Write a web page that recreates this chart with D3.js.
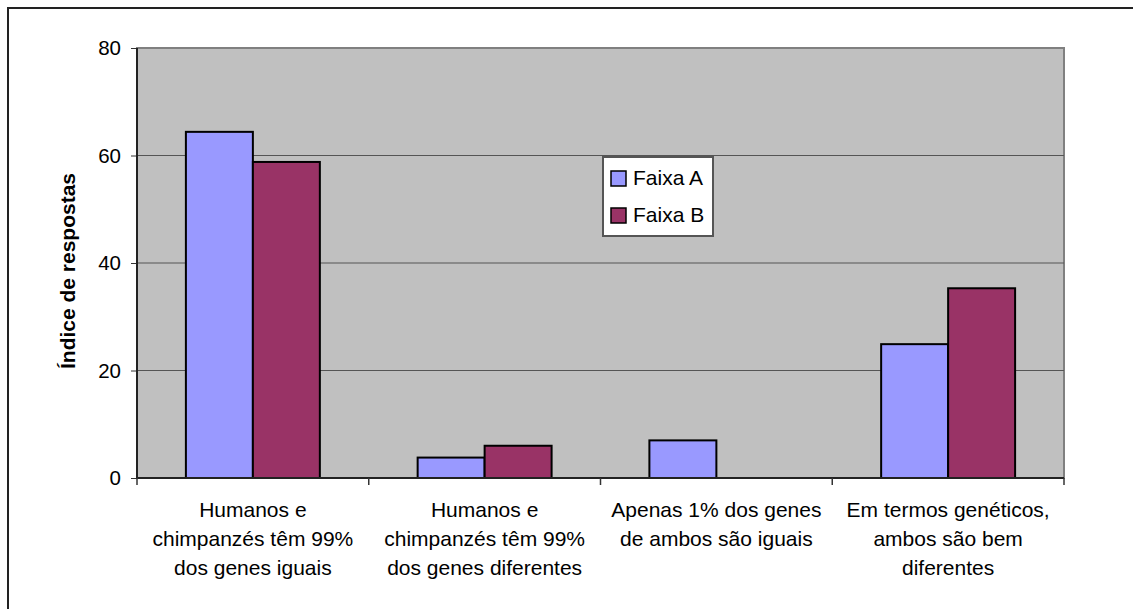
<!DOCTYPE html>
<html lang="pt">
<head>
<meta charset="UTF-8">
<script src="https://d3js.org/d3.v7.min.js"></script>
<style>
  html, body { margin: 0; background: #fff; overflow: hidden; }
  svg { display: block; }
  text { font-family: "Liberation Sans", Arial, sans-serif; fill: #000; }
</style>
</head>
<body>
<svg width="1133" height="609"></svg>
<script>
// data
var categories = [
  ["Humanos e", "chimpanzés têm 99%", "dos genes iguais"],
  ["Humanos e", "chimpanzés têm 99%", "dos genes diferentes"],
  ["Apenas 1% dos genes", "de ambos são iguais"],
  ["Em termos genéticos,", "ambos são bem", "diferentes"]
];
var seriesNames = ["Faixa A", "Faixa B"];
var faixaA = [64.4, 3.8, 7.0, 24.9];
var faixaB = [58.8, 6.0, 0, 35.3];
var yTicks = [0, 20, 40, 60, 80];
var colors = ["#9999FF", "#993366"];

var svg = d3.select("svg");
var plotL = 137, plotR = 1064, plotT = 48, plotB = 478;

// outer frame (only left/top visible)
svg.append("rect")
  .attr("x", 8).attr("y", 8).attr("width", 1140).attr("height", 620)
  .attr("fill", "none").attr("stroke", "#222").attr("stroke-width", 2);

var x = d3.scaleBand().domain(d3.range(categories.length)).range([plotL, plotR]);
var xs = d3.scaleBand().domain(d3.range(seriesNames.length))
  .range([0, x.bandwidth()]).paddingOuter(0.73).paddingInner(0);
var y = d3.scaleLinear().domain([0, 80]).range([plotB, plotT]);

// plot area
svg.append("rect")
  .attr("x", plotL).attr("y", plotT).attr("width", plotR - plotL).attr("height", plotB - plotT)
  .attr("fill", "#C0C0C0").attr("stroke", "#808080").attr("stroke-width", 2);

// gridlines
svg.append("g").selectAll("line")
  .data(yTicks.filter(d => d > 0 && d < 80))
  .join("line")
  .attr("x1", plotL).attr("x2", plotR)
  .attr("y1", d => y(d)).attr("y2", d => y(d))
  .attr("stroke", "#555").attr("stroke-width", 1);

// bars
var rows = categories.map((c, i) => [faixaA[i], faixaB[i]]);
var g = svg.append("g");
rows.forEach(function (vals, i) {
  g.selectAll(null)
    .data(vals.map((v, s) => ({ v: v, s: s })).filter(d => d.v > 0))
    .join("rect")
    .attr("x", d => x(i) + xs(d.s))
    .attr("y", d => y(d.v))
    .attr("width", xs.bandwidth())
    .attr("height", d => y(0) - y(d.v))
    .attr("fill", d => colors[d.s])
    .attr("stroke", "#000").attr("stroke-width", 2);
});

// y axis
var yAxis = svg.append("g")
  .attr("transform", "translate(" + plotL + ",0)")
  .call(d3.axisLeft(y).tickValues(yTicks).tickSize(6).tickPadding(10));
yAxis.select(".domain").remove();
yAxis.selectAll("line").attr("stroke", "#333");
yAxis.selectAll("text").attr("font-size", "20.5px")
  .style("font-family", "'Liberation Sans', Arial, sans-serif").attr("fill", "#000");
svg.append("line").attr("x1", plotL).attr("x2", plotL).attr("y1", plotT).attr("y2", plotB + 1)
  .attr("stroke", "#222").attr("stroke-width", 2);

// x axis line + ticks
svg.append("line").attr("x1", plotL).attr("x2", plotR).attr("y1", plotB).attr("y2", plotB)
  .attr("stroke", "#222").attr("stroke-width", 2);
var xTickPos = d3.range(categories.length + 1).map(i => plotL + i * x.step());
svg.append("g").selectAll("line").data(xTickPos).join("line")
  .attr("x1", d => d).attr("x2", d => d)
  .attr("y1", plotB).attr("y2", plotB + 7)
  .attr("stroke", "#333").attr("stroke-width", 1.5);

// category labels
categories.forEach(function (lines, i) {
  var t = svg.append("text")
    .attr("text-anchor", "middle")
    .attr("font-size", "21px");
  lines.forEach(function (ln, k) {
    t.append("tspan")
      .attr("x", x(i) + x.bandwidth() / 2)
      .attr("y", 517 + k * 29)
      .text(ln);
  });
});

// y title
svg.append("text")
  .attr("transform", "translate(75,271) rotate(-90)")
  .attr("text-anchor", "middle")
  .attr("font-size", "21px")
  .attr("font-weight", "bold")
  .text("Índice de respostas");

// legend
var lg = svg.append("g").attr("transform", "translate(603,157)");
lg.append("rect").attr("width", 110).attr("height", 79)
  .attr("fill", "#fff").attr("stroke", "#555").attr("stroke-width", 2);
seriesNames.forEach(function (name, i) {
  lg.append("rect")
    .attr("x", 8).attr("y", 14 + i * 37)
    .attr("width", 15).attr("height", 15)
    .attr("fill", colors[i]).attr("stroke", "#000").attr("stroke-width", 1.5);
  lg.append("text")
    .attr("x", 30).attr("y", 28 + i * 37)
    .attr("font-size", "21px")
    .text(name);
});
</script>
</body>
</html>
